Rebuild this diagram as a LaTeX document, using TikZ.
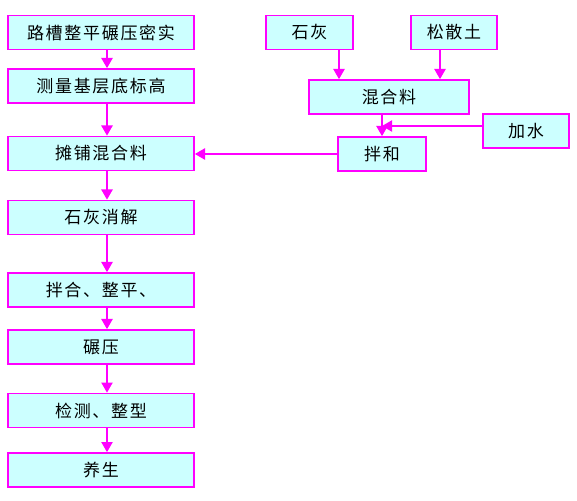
\documentclass[tikz,border=0pt]{standalone}
\usepackage{fontspec}
\setmainfont{Noto Sans CJK SC}[LetterSpace=10]
\usetikzlibrary{arrows, calc}
\definecolor{boxfill}{HTML}{CCFFFF}
\definecolor{pinkline}{HTML}{FF00FF}

\begin{document}
\begin{tikzpicture}[x=1pt, y=-1pt,
	stepbox/.style={draw=pinkline, fill=boxfill, line width=1.8pt, minimum height=34pt, inner sep=0pt, font=\fontsize{17}{17}\selectfont},
	arr/.style={draw=pinkline, line width=1.8pt, -triangle 60}]
	\useasboundingbox (0,0) rectangle (577,500);
	% left column
	\node (base) at (101,32.5) [stepbox, minimum width=186pt] {路槽整平碾压密实};
	\node (level) at (101,86) [stepbox, minimum width=186pt] {测量基层底标高};
	\node (spread) at (101,153.5) [stepbox, minimum width=186pt] {摊铺混合料};
	\node (slake) at (101,217.5) [stepbox, minimum width=186pt] {石灰消解};
	\node (mixflat) at (101,290) [stepbox, minimum width=186pt] {拌合、整平、};
	\node (roll) at (101,347) [stepbox, minimum width=186pt] {碾压};
	\node (check) at (101,410.5) [stepbox, minimum width=186pt] {检测、整型};
	\node (cure) at (101,470) [stepbox, minimum width=186pt] {养生};
	% right part
	\node (lime) at (309.5,32.5) [stepbox, minimum width=87pt] {石灰};
	\node (soil) at (454,32.5) [stepbox, minimum width=86pt] {松散土};
	\node (mix) at (389,97) [stepbox, minimum width=160pt] {混合料};
	\node (water) at (526,131) [stepbox, minimum width=86pt] {加水};
	\node (stir) at (382,154) [stepbox, minimum width=88pt] {拌和};
	% arrows
	\draw [arr] ([xshift=6]base.south) -- ([xshift=6]level.north);
	\draw [arr] ([xshift=6]level.south) -- ([xshift=6]spread.north);
	\draw [arr] ([xshift=6]spread.south) -- ([xshift=6]slake.north);
	\draw [arr] ([xshift=6]slake.south) -- ([xshift=6]mixflat.north);
	\draw [arr] ([xshift=6]mixflat.south) -- ([xshift=6]roll.north);
	\draw [arr] ([xshift=6]roll.south) -- ([xshift=6]check.north);
	\draw [arr] ([xshift=6]check.south) -- ([xshift=6]cure.north);
	\draw [arr] ([xshift=29.5]lime.south) -- ([xshift=29.5]lime.south |- mix.north);
	\draw [arr] ([xshift=-14]soil.south) -- ([xshift=-14]soil.south |- mix.north);
	\draw [arr] (stir.north |- mix.south) -- (stir.north);
	\draw [arr] ([yshift=5]water.west) -- ([yshift=5]water.west -| stir.north);
	\draw [arr] (stir.west) -- (stir.west -| spread.east);
\end{tikzpicture}
\end{document}
